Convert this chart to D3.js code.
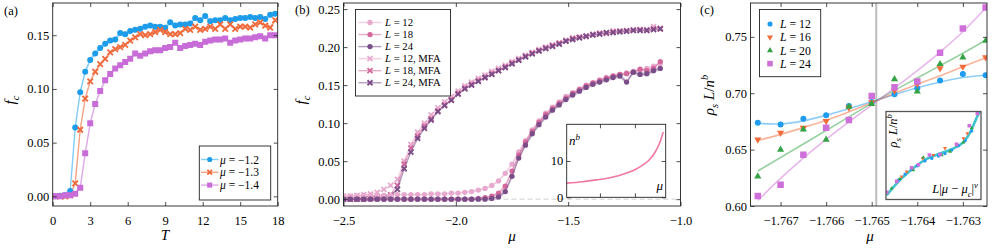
<!DOCTYPE html>
<html>
<head>
<meta charset="UTF-8">
<style>
  body { margin: 0; background: #fff; }
  svg { display: block; font-family: "Liberation Serif", "Times New Roman", serif; }
  svg text { font-family: "Liberation Serif", "Times New Roman", serif; }
  .tick text { font-size: 12.5px; }
</style>
</head>
<body>
<svg width="997" height="249"></svg>
<script src="https://d3js.org/d3.v7.min.js"></script>
<script>
// ---------- panel (a): f_c vs T ----------
var tempA = [0.2,0.6,1.0,1.4,1.8,2.2,2.6,3.0,3.4,3.8,4.2,4.6,5.0,5.4,5.8,6.2,6.6,7.0,7.4,7.8,8.2,8.6,9.0,9.4,9.8,10.2,10.6,11.0,11.4,11.8,12.2,12.6,13.0,13.4,13.8,14.2,14.6,15.0,15.4,15.8,16.2,16.6,17.0,17.4,17.8];
var fcMu12 = [0.000,0.0005,0.001,0.005,0.064,0.097,0.116,0.127,0.133,0.138,0.142,0.145,0.146,0.152,0.151,0.154,0.155,0.156,0.158,0.159,0.158,0.158,0.157,0.162,0.159,0.160,0.160,0.161,0.166,0.164,0.168,0.163,0.164,0.164,0.166,0.164,0.165,0.166,0.166,0.167,0.166,0.167,0.165,0.169,0.170];
var fcMu13 = [0.000,0.000,0.000,0.001,0.012,0.062,0.091,0.107,0.116,0.123,0.128,0.134,0.137,0.139,0.141,0.145,0.148,0.151,0.150,0.151,0.153,0.155,0.153,0.151,0.151,0.152,0.156,0.155,0.158,0.155,0.156,0.158,0.156,0.160,0.156,0.160,0.156,0.158,0.158,0.157,0.160,0.162,0.159,0.157,0.164];
var fcMu14 = [0.000,0.000,0.001,0.001,0.0025,0.008,0.040,0.068,0.086,0.098,0.108,0.114,0.119,0.122,0.125,0.128,0.133,0.131,0.133,0.135,0.136,0.136,0.138,0.139,0.143,0.138,0.140,0.141,0.142,0.141,0.144,0.145,0.146,0.146,0.147,0.143,0.145,0.146,0.147,0.147,0.148,0.149,0.147,0.150,0.150];
var errA = [0.0025, 0.002, 0.0015];
var legendA = ["−1.2", "−1.3", "−1.4"];
var ticksAx = [0,3,6,9,12,15,18];
var ticksAy = [0,0.05,0.10,0.15];

// ---------- panel (b): f_c vs mu ----------
var muB = [-2.50,-2.47,-2.44,-2.41,-2.38,-2.35,-2.32,-2.29,-2.26,-2.23,-2.20,-2.17,-2.14,-2.11,-2.08,-2.05,-2.02,-1.99,-1.96,-1.93,-1.90,-1.87,-1.84,-1.81,-1.78,-1.75,-1.72,-1.69,-1.66,-1.63,-1.60,-1.57,-1.54,-1.51,-1.48,-1.45,-1.42,-1.39,-1.36,-1.33,-1.30,-1.27,-1.24,-1.21,-1.18,-1.15,-1.12,-1.09];
var fcL12 = [0.004,0.004,0.004,0.005,0.005,0.005,0.005,0.005,0.006,0.006,0.006,0.006,0.006,0.007,0.007,0.007,0.008,0.008,0.009,0.010,0.012,0.014,0.018,0.024,0.034,0.046,0.062,0.077,0.091,0.103,0.113,0.121,0.128,0.135,0.140,0.145,0.150,0.153,0.157,0.160,0.162,0.164,0.166,0.168,0.170,0.172,0.175,0.178];
var fcL18 = [0,0,0,0,0,0,0,0,0,0,0,0,0,0,0,0,0,0,0,0,0.001,0.002,0.004,0.008,0.017,0.037,0.058,0.075,0.089,0.101,0.111,0.119,0.126,0.133,0.139,0.144,0.149,0.153,0.156,0.159,0.162,0.164,0.165,0.167,0.171,0.169,0.172,0.181];
var fcL24 = [0,0,0,0,0,0,0,0,0,0,0,0,0,0,0,0,0,0,0,0,0,0,0.001,0.003,0.010,0.030,0.054,0.071,0.086,0.098,0.108,0.117,0.124,0.131,0.137,0.142,0.147,0.151,0.154,0.157,0.160,0.162,0.154,0.167,0.164,0.165,0.169,0.172];
var mfaL12 = [0.004,0.004,0.005,0.006,0.007,0.009,0.013,0.018,0.026,0.050,0.072,0.088,0.100,0.111,0.120,0.128,0.135,0.142,0.149,0.154,0.159,0.163,0.168,0.172,0.176,0.181,0.185,0.189,0.193,0.197,0.200,0.203,0.206,0.209,0.212,0.213,0.215,0.217,0.218,0.219,0.221,0.221,0.222,0.223,0.222,0.223,0.227,0.225];
var mfaL18 = [0.000,0.000,0.000,0.001,0.001,0.002,0.003,0.006,0.018,0.046,0.067,0.083,0.096,0.106,0.116,0.124,0.131,0.139,0.146,0.151,0.156,0.160,0.165,0.169,0.174,0.179,0.183,0.188,0.192,0.195,0.199,0.202,0.205,0.208,0.211,0.213,0.214,0.216,0.218,0.218,0.220,0.221,0.221,0.222,0.223,0.222,0.224,0.224];
var mfaL24 = [0.000,0.000,0.000,0.000,0.001,0.001,0.002,0.004,0.013,0.040,0.062,0.080,0.093,0.104,0.115,0.123,0.130,0.138,0.145,0.150,0.155,0.160,0.164,0.169,0.173,0.178,0.183,0.187,0.191,0.195,0.198,0.201,0.204,0.208,0.210,0.212,0.214,0.216,0.217,0.219,0.219,0.220,0.221,0.222,0.222,0.222,0.223,0.224];
var errB = [0.002, 0.002, 0.003];
var legendB = ["12", "18", "24", "12, MFA", "18, MFA", "24, MFA"];
var ticksBx = [-2.5,-2.0,-1.5,-1.0];
var ticksBy = [0,0.05,0.10,0.15,0.20,0.25];
// inset: n^b vs mu
var nbMu = [-1.79,-1.70,-1.62,-1.55,-1.49,-1.44,-1.40,-1.36,-1.32,-1.29,-1.26,-1.238];
var nbVal = [3.9,4.3,4.8,5.3,6.0,6.8,7.6,8.7,10.2,12.0,14.8,18.0];
var ticksNbx = [-1.6,-1.4];
var ticksNby = [0,10];

// ---------- panel (c): rho_s L / n^b vs mu ----------
var muC = [-1.7675,-1.7670,-1.7665,-1.7660,-1.7655,-1.7650,-1.7645,-1.7640,-1.7635,-1.7630,-1.7625];
var rhoL12 = [0.6738,0.6723,0.6774,0.6804,0.6887,0.6923,0.6991,0.7044,0.7112,0.7171,0.7159];
var rhoL16 = [0.6589,0.6649,0.6693,0.6753,0.6872,0.6920,0.7024,0.7082,0.7220,0.7235,0.7318];
var rhoL20 = [0.6262,0.6500,0.6679,0.6589,0.6880,0.6905,0.7124,0.7015,0.7259,0.7318,0.7465];
var rhoL24 = [0.6089,0.6188,0.6455,0.6693,0.6762,0.6976,0.7053,0.7103,0.7359,0.7574,0.7759];
var fitL12 = [0.6735,0.6728,0.6755,0.6805,0.6862,0.6925,0.6988,0.7048,0.7100,0.7140,0.7160];
var fitL16 = [0.6580,0.6635,0.6695,0.6760,0.6835,0.6915,0.7000,0.7080,0.7155,0.7235,0.7315];
var fitL20 = [0.6310,0.6430,0.6550,0.6670,0.6790,0.6910,0.7025,0.7135,0.7245,0.7355,0.7470];
var fitL24 = [0.6050,0.6245,0.6425,0.6590,0.6745,0.6895,0.7045,0.7200,0.7365,0.7545,0.7755];
var muCrit = -1.7649;
var legendC = ["12", "16", "20", "24"];
var ticksCx = [-1.767,-1.766,-1.765,-1.764,-1.763];
var ticksCy = [0.60,0.65,0.70,0.75];
// inset: data collapse
var colFitX = [-2.07,-1.52,-0.98,-0.43,0.12,0.66,1.07,1.35,1.62,1.76];
var colFitY = [0.609,0.640,0.664,0.683,0.694,0.704,0.717,0.737,0.767,0.781];
var colL12x = [-1.59,-1.32,-1.05,-0.81,-0.50,-0.22,0.05,0.32,0.60,0.87,1.15,1.42];
var colL12y = [0.640,0.652,0.662,0.669,0.679,0.684,0.689,0.694,0.701,0.710,0.720,0.740];
var colL16x = [-1.46,-1.25,-0.59,-0.16,0.32,0.78,1.08,1.24];
var colL16y = [0.647,0.657,0.684,0.691,0.705,0.712,0.725,0.735];
var colL20x = [-1.87,-1.53,-0.98,-0.57,0.19,0.53,1.08,1.42];
var colL20y = [0.623,0.642,0.660,0.686,0.691,0.698,0.717,0.746];
var colL24x = [-2.07,-1.66,-1.05,-0.77,-0.32,0.12,0.80,1.32,1.65];
var colL24y = [0.615,0.637,0.665,0.671,0.691,0.692,0.713,0.751,0.776];

var svg = d3.select("svg");
svg.append("rect").attr("width", 997).attr("height", 249).attr("fill", "#fff");

// text with italic / sub / sup pieces
function rich(t, parts, fs) {
  var shift = 0;
  parts.forEach(function(p) {
    var s = p[0], st = p[1] || "";
    var target = 0, size = fs;
    if (st.indexOf("_") >= 0) { target = 0.28 * fs; size = fs * 0.7; }
    if (st.indexOf("^") >= 0) { target = -0.42 * fs; size = fs * 0.7; }
    var ts = t.append("tspan").text(s).attr("dy", target - shift).attr("font-size", size);
    if (st.indexOf("i") >= 0) ts.attr("font-style", "italic");
    shift = target;
  });
  return t;
}

function marker(g, type, x, y, sz, color) {
  if (type === "x") {
    var a = sz / 2;
    g.append("path")
      .attr("d", "M" + (x - a) + "," + (y - a) + "L" + (x + a) + "," + (y + a) + "M" + (x - a) + "," + (y + a) + "L" + (x + a) + "," + (y - a))
      .attr("stroke", color).attr("stroke-width", 1.8).attr("fill", "none");
    return;
  }
  var st = {circle: d3.symbolCircle, square: d3.symbolSquare, tri: d3.symbolTriangle, tridown: d3.symbolTriangle}[type];
  var area = type === "circle" ? Math.PI * sz * sz / 4 : (type === "square" ? sz * sz : sz * sz * 0.45);
  g.append("path")
    .attr("d", d3.symbol().type(st).size(area)())
    .attr("transform", "translate(" + x + "," + y + ")" + (type === "tridown" ? " rotate(180)" : ""))
    .attr("fill", color);
}

// frame + inward ticks on all four sides; xf / yf null means no labels
function axes(g, x, y, xt, yt, xf, yf) {
  var r = x.range(), d = y.range();
  var x0 = r[0], x1 = r[1], yb = d[0], yt0 = d[1];
  var ax = [
    [d3.axisBottom(x).tickValues(xt), "translate(0," + yb + ")", xf],
    [d3.axisTop(x).tickValues(xt), "translate(0," + yt0 + ")", null],
    [d3.axisLeft(y).tickValues(yt), "translate(" + x0 + ",0)", yf],
    [d3.axisRight(y).tickValues(yt), "translate(" + x1 + ",0)", null]
  ];
  ax.forEach(function(a, i) {
    var axis = a[0].tickSizeInner(-4).tickSizeOuter(0).tickPadding(i === 0 ? 10.5 : 3.5);
    axis.tickFormat(a[2] ? a[2] : "");
    var gg = g.append("g").attr("transform", a[1]).call(axis)
      .attr("font-family", null).attr("font-size", null);
    gg.select(".domain").remove();
    gg.selectAll(".tick line").attr("stroke", "#222").attr("stroke-width", 0.8);
    gg.selectAll(".tick text").attr("fill", "#000");
  });
  g.append("rect").attr("x", x0).attr("y", yt0).attr("width", x1 - x0).attr("height", yb - yt0)
    .attr("fill", "none").attr("stroke", "#222").attr("stroke-width", 0.9);
}

var fmt2 = d3.format(".2f"), fmt1 = d3.format(".1f"), fmt3 = d3.format(".3f");

// ================= panel (a) =================
var xA = d3.scaleLinear([0, 18], [52.7, 277.7]);
var yA = d3.scaleLinear([-0.009, 0.18], [206, 3]);
var gA = svg.append("g");
var seriesA = [
  {v: fcMu12, c: "#1c9ce9", lc: "#86cdf6", m: "circle", s: 6},
  {v: fcMu13, c: "#ee6a3d", lc: "#f5a385", m: "x", s: 5.5},
  {v: fcMu14, c: "#c86cd7", lc: "#dea8ea", m: "square", s: 6}
];
gA.append("clipPath").attr("id", "clipA").append("rect")
  .attr("x", 52.7).attr("y", 3).attr("width", 225).attr("height", 203);
var plotA = gA.append("g").attr("clip-path", "url(#clipA)");
seriesA.forEach(function(s, k) {
  var area = d3.area().x(function(d, i) { return xA(tempA[i]); })
    .y0(function(d) { return yA(d - errA[k]); }).y1(function(d) { return yA(d + errA[k]); });
  plotA.append("path").attr("d", area(s.v)).attr("fill", s.c).attr("opacity", 0.22);
});
seriesA.forEach(function(s) {
  var line = d3.line().x(function(d, i) { return xA(tempA[i]); }).y(function(d) { return yA(d); });
  plotA.append("path").attr("d", line(s.v)).attr("fill", "none").attr("stroke", s.lc).attr("stroke-width", 1.4);
});
seriesA.forEach(function(s) {
  s.v.forEach(function(d, i) { marker(plotA, s.m, xA(tempA[i]), yA(d), s.s, s.c); });
});
axes(gA, xA, yA, ticksAx, ticksAy, d3.format("d"), fmt2);
rich(gA.append("text").attr("transform", "translate(15,100) rotate(-90)").attr("text-anchor", "middle"),
  [["f", "i"], ["c", "i_"]], 15);
rich(gA.append("text").attr("x", 165).attr("y", 240).attr("text-anchor", "middle"), [["T", "i"]], 15);
gA.append("text").attr("x", 4).attr("y", 14.5).attr("font-size", 12.5).text("(a)");
// legend a
var lgA = gA.append("g");
lgA.append("rect").attr("x", 199.3).attr("y", 146).attr("width", 71.4).attr("height", 54)
  .attr("fill", "#fff").attr("stroke", "#222").attr("stroke-width", 0.9);
seriesA.forEach(function(s, i) {
  var yy = 159.5 + i * 12.8;
  lgA.append("line").attr("x1", 201).attr("x2", 218.5).attr("y1", yy).attr("y2", yy)
    .attr("stroke", s.lc).attr("stroke-width", 1.4);
  marker(lgA, s.m, 209.7, yy, s.s * 0.85, s.c);
  rich(lgA.append("text").attr("x", 220).attr("y", yy + 4),
    [["μ", "i"], [" = " + legendA[i], ""]], 11.5);
});

// ================= panel (b) =================
var xB = d3.scaleLinear([-2.5, -1.0], [343.5, 680.5]);
var yB = d3.scaleLinear([-0.009, 0.258], [206, 3]);
var gB = svg.append("g");
gB.append("clipPath").attr("id", "clipB").append("rect")
  .attr("x", 343.5).attr("y", 3).attr("width", 337).attr("height", 203);
var plotB = gB.append("g").attr("clip-path", "url(#clipB)");
plotB.append("line").attr("x1", 343.5).attr("x2", 680.5).attr("y1", yB(0)).attr("y2", yB(0))
  .attr("stroke", "#cfcfcf").attr("stroke-dasharray", "5,3").attr("stroke-width", 1);
var colB = ["#e7a9cd", "#d4679c", "#7a4d88"];
var seriesB = [
  {v: mfaL12, c: colB[0], m: "x"}, {v: mfaL18, c: colB[1], m: "x"}, {v: mfaL24, c: colB[2], m: "x"},
  {v: fcL12, c: colB[0], m: "circle", e: errB[0]}, {v: fcL18, c: colB[1], m: "circle", e: errB[1]}, {v: fcL24, c: colB[2], m: "circle", e: errB[2]}
];
seriesB.forEach(function(s) {
  if (!s.e) return;
  var area = d3.area().x(function(d, i) { return xB(muB[i]); })
    .y0(function(d) { return yB(d - s.e); }).y1(function(d) { return yB(d + s.e); });
  plotB.append("path").attr("d", area(s.v)).attr("fill", s.c).attr("opacity", 0.22);
});
seriesB.forEach(function(s) {
  var line = d3.line().x(function(d, i) { return xB(muB[i]); }).y(function(d) { return yB(d); });
  plotB.append("path").attr("d", line(s.v)).attr("fill", "none").attr("stroke", s.c)
    .attr("stroke-opacity", 0.55).attr("stroke-width", 1.4);
  s.v.forEach(function(d, i) { marker(plotB, s.m, xB(muB[i]), yB(d), s.m === "x" ? 5 : 5.3, s.c); });
});
axes(gB, xB, yB, ticksBx, ticksBy, fmt1, fmt2);
rich(gB.append("text").attr("transform", "translate(306,100) rotate(-90)").attr("text-anchor", "middle"),
  [["f", "i"], ["c", "i_"]], 15);
rich(gB.append("text").attr("x", 512).attr("y", 241).attr("text-anchor", "middle"), [["μ", "i"]], 15);
gB.append("text").attr("x", 295).attr("y", 14).attr("font-size", 12.5).text("(b)");
// legend b
var lgB = gB.append("g");
lgB.append("rect").attr("x", 355.5).attr("y", 9.5).attr("width", 95).attr("height", 86.5)
  .attr("fill", "#fff").attr("stroke", "#222").attr("stroke-width", 0.9);
[3, 4, 5, 0, 1, 2].forEach(function(k, i) {
  var s = seriesB[k], yy = 22.5 + i * 12.05;
  lgB.append("line").attr("x1", 358.5).attr("x2", 381.5).attr("y1", yy).attr("y2", yy)
    .attr("stroke", s.c).attr("stroke-opacity", 0.55).attr("stroke-width", 1.4);
  marker(lgB, s.m, 370, yy, s.m === "x" ? 5 : 5.3, s.c);
  rich(lgB.append("text").attr("x", 385).attr("y", yy + 3.7),
    [["L", "i"], [" = " + legendB[i], ""]], 10.7);
});
// inset b
var xNb = d3.scaleLinear([-1.79, -1.224], [566.7, 665.7]);
var yNb = d3.scaleLinear([0, 20.1], [197.3, 124.3]);
var gNb = gB.append("g");
gNb.append("rect").attr("x", 566.7).attr("y", 124.3).attr("width", 99).attr("height", 73)
  .attr("fill", "#fff");
gNb.append("path").attr("d", d3.line().curve(d3.curveMonotoneX)
    .x(function(d, i) { return xNb(nbMu[i]); }).y(function(d) { return yNb(d); })(nbVal))
  .attr("fill", "none").attr("stroke", "#f0789f").attr("stroke-width", 1.6);
axes(gNb, xNb, yNb, ticksNbx, ticksNby, null, d3.format("d"));
rich(gNb.append("text").attr("x", 569).attr("y", 145), [["n", "i"], ["b", "i^"]], 13);
rich(gNb.append("text").attr("x", 663).attr("y", 190).attr("text-anchor", "end"), [["μ", "i"]], 13);

// ================= panel (c) =================
var xC = d3.scaleLinear([-1.76766, -1.76247], [750.5, 987]);
var yC = d3.scaleLinear([0.60, 0.78], [206, 3]);
var gC = svg.append("g");
gC.append("clipPath").attr("id", "clipC").append("rect")
  .attr("x", 750.5).attr("y", 3).attr("width", 236.5).attr("height", 203);
var plotC = gC.append("g").attr("clip-path", "url(#clipC)");
plotC.append("line").attr("x1", xC(muCrit)).attr("x2", xC(muCrit)).attr("y1", 3).attr("y2", 206)
  .attr("stroke", "#bdbdbd").attr("stroke-width", 2);
var seriesC = [
  {v: rhoL12, f: fitL12, c: "#1f9cf0", m: "circle", s: 6, cx: colL12x, cy: colL12y},
  {v: rhoL16, f: fitL16, c: "#f26b3a", m: "tridown", s: 7, cx: colL16x, cy: colL16y},
  {v: rhoL20, f: fitL20, c: "#34a345", m: "tri", s: 7, cx: colL20x, cy: colL20y},
  {v: rhoL24, f: fitL24, c: "#cf6fd9", m: "square", s: 6.5, cx: colL24x, cy: colL24y}
];
seriesC.forEach(function(s) {
  plotC.append("path").attr("d", d3.line().curve(d3.curveCatmullRom)
      .x(function(d, i) { return xC(muC[i]); }).y(function(d) { return yC(d); })(s.f))
    .attr("fill", "none").attr("stroke", s.c).attr("stroke-opacity", 0.5).attr("stroke-width", 1.6);
});
seriesC.forEach(function(s) {
  s.v.forEach(function(d, i) { marker(plotC, s.m, xC(muC[i]), yC(d), s.s, s.c); });
});
axes(gC, xC, yC, ticksCx, ticksCy, fmt3, fmt2);
rich(gC.append("text").attr("transform", "translate(714,95) rotate(-90)").attr("text-anchor", "middle"),
  [["ρ", "i"], ["s", "i_"], [" L", "i"], ["/", ""], ["n", "i"], ["b", "i^"]], 15);
rich(gC.append("text").attr("x", 870).attr("y", 241).attr("text-anchor", "middle"), [["μ", "i"]], 15);
gC.append("text").attr("x", 700).attr("y", 14).attr("font-size", 12.5).text("(c)");
// legend c
var lgC = gC.append("g");
lgC.append("rect").attr("x", 759.5).attr("y", 9.5).attr("width", 61.2).attr("height", 67.2)
  .attr("fill", "#fff").attr("stroke", "#222").attr("stroke-width", 0.9);
seriesC.forEach(function(s, i) {
  var yy = 24 + i * 13.2;
  marker(lgC, s.m, 770, yy, s.s * 0.85, s.c);
  rich(lgC.append("text").attr("x", 780).attr("y", yy + 4.1),
    [["L", "i"], [" = " + legendC[i], ""]], 11.8);
});
// inset c
var xCol = d3.scaleLinear([-2.1, 1.8], [886, 981]);
var yCol = d3.scaleLinear([0.6, 0.78], [199.5, 111.5]);
var gCol = gC.append("g");
gCol.append("rect").attr("x", 886).attr("y", 111.5).attr("width", 95).attr("height", 88).attr("fill", "#fff");
gCol.append("clipPath").attr("id", "clipCol").append("rect")
  .attr("x", 886).attr("y", 111.5).attr("width", 95).attr("height", 88);
var plotCol = gCol.append("g").attr("clip-path", "url(#clipCol)");
plotCol.append("path").attr("d", d3.line().curve(d3.curveCatmullRom)
    .x(function(d, i) { return xCol(colFitX[i]); }).y(function(d) { return yCol(d); })(colFitY))
  .attr("fill", "none").attr("stroke", "#3fc3cd").attr("stroke-width", 2.6);
seriesC.forEach(function(s) {
  s.cx.forEach(function(d, i) { marker(plotCol, s.m, xCol(d), yCol(s.cy[i]), s.s * 0.55, s.c); });
});
gCol.append("rect").attr("x", 886).attr("y", 111.5).attr("width", 95).attr("height", 88)
  .attr("fill", "none").attr("stroke", "#555").attr("stroke-width", 1.3);
rich(gCol.append("text").attr("transform", "translate(897,114) rotate(-90)").attr("text-anchor", "end"),
  [["ρ", "i"], ["s", "i_"], [" L", "i"], ["/", ""], ["n", "i"], ["b", "i^"]], 12.5);
rich(gCol.append("text").attr("x", 978).attr("y", 193).attr("text-anchor", "end"),
  [["L", "i"], ["|", ""], ["μ", "i"], [" − ", ""], ["μ", "i"], ["c", "i_"], ["|", ""], ["ν", "i^"]], 12.5);
</script>
</body>
</html>
